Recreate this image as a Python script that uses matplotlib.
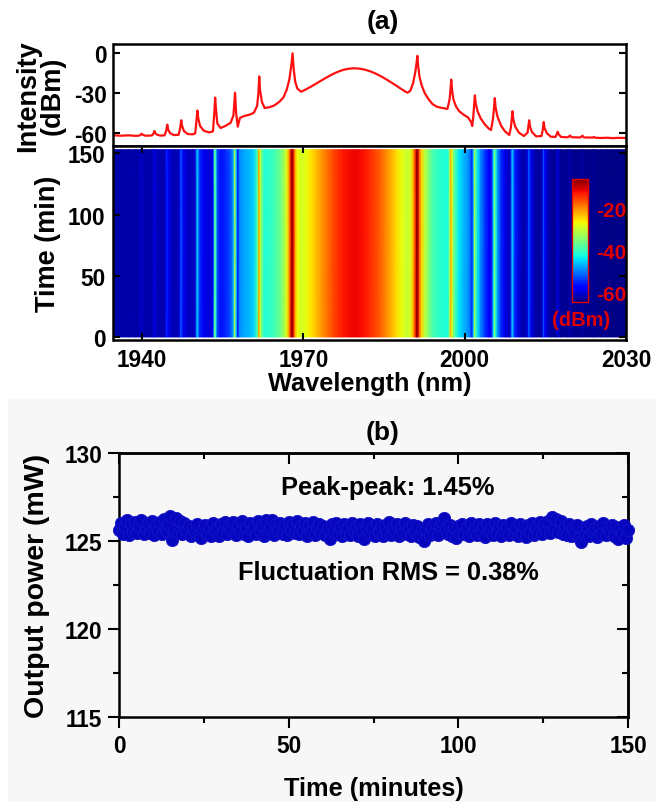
import numpy as np
import matplotlib
matplotlib.use("Agg")
import matplotlib.pyplot as plt
from matplotlib.patches import Rectangle
from matplotlib.ticker import MultipleLocator

plt.rcParams['font.family'] = ['Liberation Sans', 'DejaVu Sans']
plt.rcParams['font.weight'] = 'bold'
plt.rcParams['axes.labelweight'] = 'bold'
plt.rcParams['axes.unicode_minus'] = False

# ---- (a) optical spectrum: wavelength (nm) and intensity (dBm) ----
wavelength_nm = [
    1934.7, 1936.0, 1937.5, 1938.8,
    1939.5, 1939.8, 1939.9, 1940.1, 1940.6, 1941.5,
    1941.9, 1942.15, 1942.3, 1942.45, 1942.8, 1943.4,
    1944.2, 1944.5, 1944.7, 1944.85, 1945.2, 1945.9,
    1946.8, 1947.1, 1947.3, 1947.45, 1947.8, 1948.5, 1949.4,
    1949.9, 1950.1, 1950.3, 1950.45, 1950.8, 1951.5, 1952.5,
    1953.2, 1953.45, 1953.6, 1953.75, 1954.0, 1954.6, 1955.5, 1956.5, 1957.0,
    1957.3, 1957.5, 1957.8, 1958.2, 1959.0, 1960.0, 1960.8, 1961.4, 1961.65,
    1961.8, 1961.95, 1962.3, 1962.8, 1963.6, 1964.5, 1965.5, 1966.3, 1966.9,
    1967.4, 1967.75, 1968.0, 1968.2, 1968.5, 1968.9, 1969.6,
    1970.5, 1971.5, 1972.5, 1973.5, 1974.5, 1975.5, 1976.5, 1977.5, 1978.5,
    1979.4, 1980.3, 1981.3, 1982.3, 1983.3, 1984.3, 1985.3, 1986.3, 1987.3,
    1988.3, 1989.0, 1989.4, 1989.9, 1990.4, 1990.8, 1991.05, 1991.2, 1991.35,
    1991.6, 1992.0, 1992.6, 1993.3, 1994.0, 1994.8, 1995.6, 1996.3, 1996.8,
    1997.2, 1997.4, 1997.5, 1997.65, 1997.9, 1998.4, 1999.0, 1999.9, 2000.6,
    2001.2, 2001.4, 2001.6, 2001.8, 2001.9, 2002.05, 2002.4, 2003.0, 2003.8,
    2004.5, 2004.9, 2005.25, 2005.45, 2005.6, 2005.75, 2006.1, 2006.8, 2007.5,
    2008.3, 2008.6, 2008.75, 2008.9, 2009.05, 2009.4, 2010.1, 2011.0,
    2011.7, 2011.85, 2012.0, 2012.15, 2012.5, 2013.3, 2014.3, 2014.55,
    2014.7, 2014.85, 2015.3, 2016.0, 2016.9, 2017.15, 2017.3, 2017.45,
    2017.9, 2019.2, 2019.6, 2019.9, 2021.5, 2021.9, 2022.2, 2023.8,
    2024.0, 2024.3, 2025.5, 2026.5, 2027.5, 2028.5, 2030.0,
]
intensity_dbm = [
    -62.0, -62.3, -62.0, -62.4,
    -62.2, -61.3, -60.8, -61.5, -62.3, -62.2,
    -62.0, -60.5, -58.7, -60.3, -61.5, -62.2,
    -62.0, -58.5, -54.0, -57.5, -60.3, -61.8,
    -61.6, -56.5, -50.7, -55.0, -58.8, -61.0, -61.3,
    -60.5, -52.0, -43.4, -49.0, -55.0, -58.6, -59.8,
    -59.0, -45.0, -33.7, -42.0, -53.0, -56.5, -55.0, -52.5, -47.0,
    -30.0, -45.0, -55.5, -49.0, -47.5, -46.5, -45.0, -40.0, -30.0,
    -17.8, -28.0, -37.0, -41.5, -41.0, -39.8, -37.0, -33.5, -28.0,
    -20.0, -10.0, -0.5, -12.0, -22.0, -27.0, -29.3,
    -27.5, -25.3, -22.9, -20.5, -18.2, -16.0, -14.2, -12.8, -12.0,
    -11.7, -11.9, -12.6, -13.8, -15.4, -17.4, -19.7, -22.2, -24.8,
    -27.5, -29.3, -30.0, -28.5, -23.0, -15.0, -8.0, -2.4, -10.0,
    -18.0, -24.5, -30.5, -35.0, -38.5, -40.5, -41.3, -41.8, -42.2,
    -35.0, -26.0, -20.2, -28.0, -35.0, -40.5, -44.0, -46.8, -48.5,
    -52.0, -55.0, -48.0, -38.0, -32.0, -38.0, -44.0, -49.5, -54.0,
    -57.0, -58.0, -50.0, -42.0, -34.1, -41.0, -48.0, -55.0, -59.0,
    -61.7, -56.0, -50.0, -43.9, -50.0, -55.5, -60.0, -62.5,
    -60.0, -55.0, -50.7, -55.5, -59.5, -62.8, -62.5, -57.0,
    -52.0, -56.5, -60.5, -63.0, -63.2, -61.0, -59.3, -61.0,
    -63.2, -63.5, -62.2, -63.4, -63.6, -62.3, -63.6, -63.7,
    -63.2, -63.8, -64.0, -63.8, -64.1, -63.9, -64.0,
]
time_span_min = [0, 153]
wl_ticks = [1940, 1970, 2000, 2030]
cbar_ticks = [-20, -40, -60]

# ---- (b) output power stability ----
output_power_mw = [
    125.62, 126.05, 125.41, 125.88, 126.18, 125.36, 125.95, 125.52, 126.10, 125.44,
    125.83, 126.21, 125.38, 125.70, 126.02, 125.47, 126.15, 125.33, 125.91, 125.58,
    126.08, 125.42, 126.24, 125.64, 125.97, 126.40, 125.05, 125.55, 126.30, 125.46,
    126.12, 125.38, 126.00, 125.61, 125.86, 125.29, 125.72, 125.50, 125.98, 125.35,
    125.18, 125.66, 125.92, 125.40, 125.81, 125.27, 126.03, 125.55, 125.74, 125.31,
    125.96, 125.48, 126.10, 125.37, 125.85, 125.60, 126.06, 125.33, 125.90, 125.52,
    126.14, 125.42, 125.78, 125.30, 126.02, 125.64, 125.88, 125.39, 126.11, 125.55,
    125.93, 125.28, 126.18, 125.47, 125.80, 126.22, 125.36, 125.97, 125.58, 126.05,
    125.40, 125.89, 125.32, 126.08, 125.62, 125.95, 125.45, 126.12, 125.37, 125.84,
    125.58, 126.01, 125.30, 125.91, 125.49, 126.06, 125.35, 125.77, 125.98, 125.43,
    125.86, 125.34, 125.70, 125.12, 125.94, 125.51, 126.03, 125.38, 125.82, 125.29,
    125.97, 125.46, 125.73, 125.33, 126.04, 125.55, 125.88, 125.27, 125.95, 125.60,
    125.14, 125.81, 126.02, 125.40, 125.76, 125.31, 125.99, 125.52, 125.85, 125.26,
    125.93, 125.47, 126.06, 125.35, 125.79, 125.58, 125.96, 125.30, 125.87, 125.44,
    126.01, 125.38, 125.74, 125.28, 125.92, 125.50, 125.83, 125.24, 125.71, 125.02,
    125.66, 125.95, 125.36, 125.80, 125.48, 126.00, 125.33, 125.89, 126.10, 126.32,
    125.70, 125.42, 125.92, 125.31, 125.78, 125.16, 125.86, 125.45, 125.97, 125.37,
    125.81, 125.29, 126.03, 125.52, 125.75, 125.34, 125.94, 125.46, 125.84, 125.25,
    125.98, 125.55, 125.72, 125.32, 126.05, 125.43, 125.87, 125.28, 125.93, 125.50,
    125.79, 125.36, 126.02, 125.47, 125.73, 125.30, 125.96, 125.41, 125.85, 125.22,
    125.91, 125.53, 126.04, 125.35, 125.82, 125.44, 126.09, 125.38, 125.97, 125.56,
    126.15, 125.47, 126.38, 125.62, 126.27, 125.51, 126.12, 125.40, 125.88, 125.33,
    125.94, 125.29, 125.76, 125.45, 125.90, 125.18, 124.92, 125.70, 125.36, 125.85,
    125.27, 125.96, 125.49, 125.73, 125.20, 125.88, 125.41, 126.01, 125.32, 125.79,
    125.54, 125.93, 125.26, 125.82, 125.10, 125.71, 125.44, 125.90, 125.15, 125.62,
]
time_minutes = np.linspace(0, 150, len(output_power_mw))

W, H = 662, 803
fig = plt.figure(figsize=(W / 100, H / 100), dpi=100)

def fx(px):
    return px / W

def fy(py):
    return 1 - py / H

# light grey backdrop behind panel (b)
fig.patches.append(Rectangle((fx(8), 0), fx(648), fy(400), transform=fig.transFigure,
                             facecolor='#f7f7f7', edgecolor='none', zorder=-10))

TICK_FS = 16.3
HLABEL_FS = 18.3
VLABEL_FS = 19.5
SPINE_LW = 1.8
xmin, xmax = 1934.7, 2030

# spectrum panel
ax_s = fig.add_axes([fx(113.5), fy(147), fx(626 - 113.5), fy(45) - fy(147)])
ax_s.plot(wavelength_nm, intensity_dbm, color='#ff1010', lw=1.6)
ax_s.set_xlim(xmin, xmax)
ax_s.set_ylim(-70, 6.5)
ax_s.set_yticks([0, -30, -60])
ax_s.set_xticks([])
ax_s.tick_params(axis='y', direction='in', length=5, width=1.5, right=True,
                 labelsize=TICK_FS, pad=5)
ax_s.set_ylabel('Intensity\n(dBm)', fontsize=VLABEL_FS, linespacing=0.95)
ax_s.yaxis.set_label_coords(-0.093, 0.5)
for sp in ax_s.spines.values():
    sp.set_linewidth(SPINE_LW)

# time-wavelength map
ax_h = fig.add_axes([fx(113.5), fy(341), fx(626 - 113.5), fy(147) - fy(341)])
WL, T = np.meshgrid(wavelength_nm, time_span_min)
Z = np.vstack([intensity_dbm, intensity_dbm])
mesh = ax_h.pcolormesh(WL, T, Z, cmap='jet', vmin=-64.5, vmax=-6, shading='gouraud')
ax_h.set_xlim(xmin, xmax)
ax_h.set_ylim(-2.5, 156)
ax_h.set_xticks(wl_ticks)
ax_h.set_yticks([0, 50, 100, 150])
ax_h.tick_params(direction='in', length=5, width=1.5, top=True, right=True,
                 labelsize=TICK_FS, pad=6)
ax_h.set_xlabel('Wavelength (nm)', fontsize=HLABEL_FS, labelpad=0)
ax_h.set_ylabel('Time (min)', fontsize=VLABEL_FS)
ax_h.yaxis.set_label_coords(-0.103, 0.5)
for sp in ax_h.spines.values():
    sp.set_linewidth(SPINE_LW)

# colour bar drawn inside the map
cax = fig.add_axes([fx(572), fy(303), fx(16), fy(180) - fy(303)])
cb = fig.colorbar(mesh, cax=cax, ticks=cbar_ticks)
cb.outline.set_edgecolor('#e00000')
cb.outline.set_linewidth(1.0)
cax.tick_params(length=0, labelsize=15, labelcolor='#e00000', pad=6)
for lab in cax.get_yticklabels():
    lab.set_fontweight('bold')
fig.text(fx(581), fy(320), '(dBm)', color='#e00000', fontsize=14.5,
         ha='center', va='center')

fig.text(fx(383), fy(22), '(a)', fontsize=19, ha='center', va='center')
fig.text(fx(383), fy(433), '(b)', fontsize=19, ha='center', va='center')

# stability panel
ax_b = fig.add_axes([fx(119), fy(718), fx(628 - 119), fy(454) - fy(718)])
ax_b.set_facecolor('#f7f7f7')
ax_b.scatter(time_minutes, output_power_mw, s=78, color='#0606bf',
             edgecolors='#1414c8', linewidths=0.6, zorder=3, clip_on=False)
ax_b.set_xlim(0, 150)
ax_b.set_ylim(115, 130)
ax_b.set_xticks([0, 50, 100, 150])
ax_b.set_yticks([115, 120, 125, 130])
ax_b.xaxis.set_minor_locator(MultipleLocator(25))
ax_b.yaxis.set_minor_locator(MultipleLocator(2.5))
ax_b.tick_params(which='major', direction='out', length=8, width=1.5,
                 labelsize=TICK_FS, pad=4)
ax_b.tick_params(which='minor', direction='out', length=4, width=1.5)
sec_x = ax_b.secondary_xaxis('top')
sec_x.set_xticks([0, 50, 100, 150])
sec_x.xaxis.set_minor_locator(MultipleLocator(25))
sec_x.tick_params(which='both', direction='in', labeltop=False, width=1.5)
sec_x.tick_params(which='major', length=8)
sec_x.tick_params(which='minor', length=4)
sec_y = ax_b.secondary_yaxis('right')
sec_y.set_yticks([115, 120, 125, 130])
sec_y.yaxis.set_minor_locator(MultipleLocator(2.5))
sec_y.tick_params(which='both', direction='in', labelright=False, width=1.5)
sec_y.tick_params(which='major', length=8)
sec_y.tick_params(which='minor', length=4)
for a in (ax_b, sec_x, sec_y):
    for sp in a.spines.values():
        sp.set_linewidth(SPINE_LW)
ax_b.set_xlabel('Time (minutes)', fontsize=HLABEL_FS, labelpad=14)
ax_b.set_ylabel('Output power (mW)', fontsize=20.5)
ax_b.yaxis.set_label_coords(-0.135, 0.5)
ax_b.text(0.528, 0.871, 'Peak-peak: 1.45%', transform=ax_b.transAxes,
          fontsize=HLABEL_FS, ha='center', va='center')
ax_b.text(0.529, 0.549, 'Fluctuation RMS = 0.38%', transform=ax_b.transAxes,
          fontsize=HLABEL_FS, ha='center', va='center')

fig.savefig('out.png', dpi=100)
